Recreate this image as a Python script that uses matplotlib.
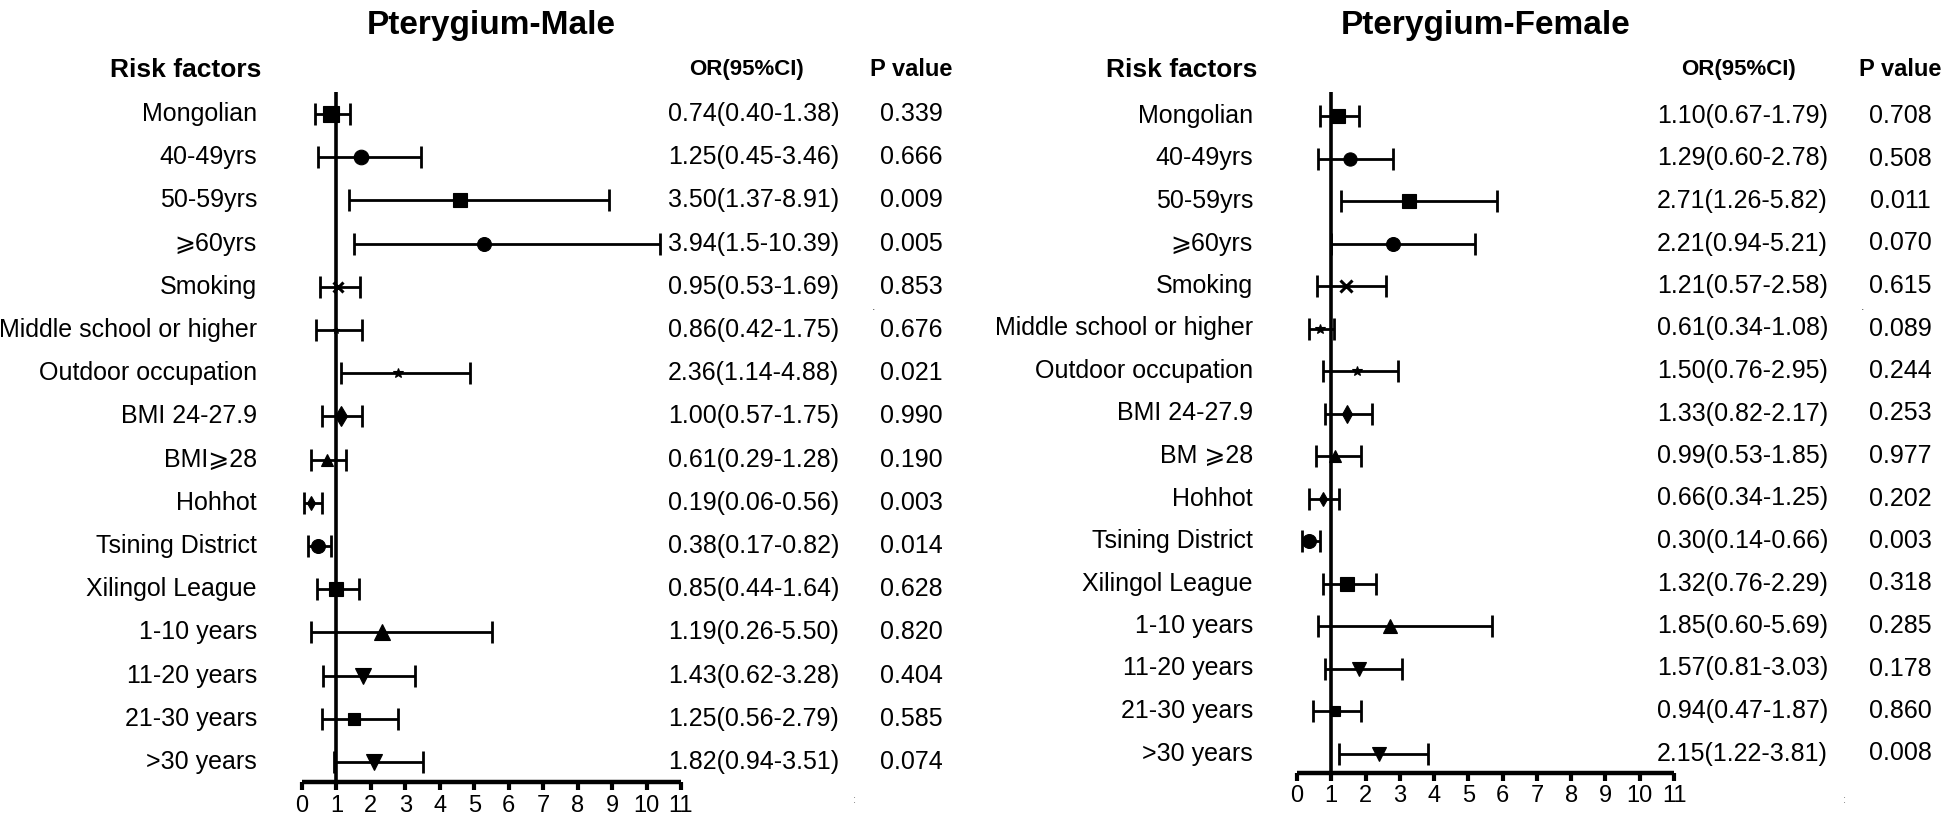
import matplotlib
matplotlib.use('Agg')
import matplotlib.pyplot as plt
from matplotlib import font_manager
from matplotlib.transforms import blended_transform_factory


# Row labels (top to bottom)
male_labels = ['Mongolian', '40-49yrs', '50-59yrs', '⩾60yrs', 'Smoking',
               'Middle school or higher', 'Outdoor occupation', 'BMI 24-27.9',
               'BMI⩾28', 'Hohhot', 'Tsining District', 'Xilingol League',
               '1-10 years', '11-20 years', '21-30 years', '>30 years']
female_labels = ['Mongolian', '40-49yrs', '50-59yrs', '⩾60yrs', 'Smoking',
                 'Middle school or higher', 'Outdoor occupation', 'BMI 24-27.9',
                 'BM ⩾28', 'Hohhot', 'Tsining District', 'Xilingol League',
                 '1-10 years', '11-20 years', '21-30 years', '>30 years']

# Plotted points and whisker ends (as drawn in the figure)
male_pt = [0.83, 1.71, 4.59, 5.28, 1.05, 0.99, 2.79, 1.12, 0.73, 0.27, 0.45, 0.99, 2.32, 1.78, 1.52, 2.08]
male_lo = [0.39, 0.45, 1.36, 1.50, 0.52, 0.42, 1.14, 0.57, 0.27, 0.06, 0.16, 0.44, 0.25, 0.61, 0.57, 0.94]
male_hi = [1.39, 3.46, 8.90, 10.38, 1.69, 1.75, 4.88, 1.74, 1.28, 0.57, 0.83, 1.65, 5.50, 3.29, 2.79, 3.50]

female_pt = [1.20, 1.56, 3.28, 2.80, 1.43, 0.66, 1.74, 1.45, 1.11, 0.76, 0.36, 1.46, 2.72, 1.81, 1.11, 2.39]
female_lo = [0.66, 0.61, 1.27, 0.99, 0.59, 0.34, 0.77, 0.83, 0.55, 0.35, 0.15, 0.77, 0.62, 0.83, 0.47, 1.22]
female_hi = [1.80, 2.79, 5.84, 5.20, 2.59, 1.08, 2.94, 2.18, 1.86, 1.24, 0.68, 2.31, 5.69, 3.05, 1.87, 3.81]

# Text columns
male_or = ['0.74(0.40-1.38)', '1.25(0.45-3.46)', '3.50(1.37-8.91)', '3.94(1.5-10.39)',
           '0.95(0.53-1.69)', '0.86(0.42-1.75)', '2.36(1.14-4.88)', '1.00(0.57-1.75)',
           '0.61(0.29-1.28)', '0.19(0.06-0.56)', '0.38(0.17-0.82)', '0.85(0.44-1.64)',
           '1.19(0.26-5.50)', '1.43(0.62-3.28)', '1.25(0.56-2.79)', '1.82(0.94-3.51)']
male_p = ['0.339', '0.666', '0.009', '0.005', '0.853', '0.676', '0.021', '0.990',
          '0.190', '0.003', '0.014', '0.628', '0.820', '0.404', '0.585', '0.074']
female_or = ['1.10(0.67-1.79)', '1.29(0.60-2.78)', '2.71(1.26-5.82)', '2.21(0.94-5.21)',
             '1.21(0.57-2.58)', '0.61(0.34-1.08)', '1.50(0.76-2.95)', '1.33(0.82-2.17)',
             '0.99(0.53-1.85)', '0.66(0.34-1.25)', '0.30(0.14-0.66)', '1.32(0.76-2.29)',
             '1.85(0.60-5.69)', '1.57(0.81-3.03)', '0.94(0.47-1.87)', '2.15(1.22-3.81)']
female_p = ['0.708', '0.508', '0.011', '0.070', '0.615', '0.089', '0.244', '0.253',
            '0.977', '0.202', '0.003', '0.318', '0.285', '0.178', '0.860', '0.008']

x_ticks = list(range(0, 12))

# Marker styles per row
markers = ['s', 'o', 's', 'o', 'x', '*', '*', 'd', '^', 'd', 'o', 's', '^', 'v', 's', 'v']
male_msize = [11, 10.5, 10.5, 10, 7.5, 5, 7, 10, 9, 7, 10, 10.5, 11, 11, 8.5, 11]
female_msize = [9.5, 9.5, 10, 10, 8, 7, 7, 9, 8, 7, 10, 10, 10.5, 10, 7.5, 10]

W, H = 1946, 815
names = {f.name for f in font_manager.fontManager.ttflist}
NARROW = 'Liberation Sans Narrow' if 'Liberation Sans Narrow' in names else 'Liberation Sans'
plt.rcParams['font.family'] = ['Liberation Sans', 'DejaVu Sans']


def fx(px):
    return px / W


def fy(py):
    return 1 - py / H


# Draw one forest panel; geometry given in figure pixels
def draw_panel(fig, geo, title, labels, pt, lo, hi, or_txt, p_txt, msize):
    x0, x1, row0, row_step, line_top, axis_y = geo['x0'], geo['x1'], geo['row0'], geo['step'], geo['top'], geo['axis']
    ax = fig.add_axes([fx(x0), fy(axis_y), (x1 - x0) / W, (axis_y - line_top) / H])
    ax.set_xlim(0, 11)
    ax.set_ylim((axis_y - row0) / row_step, (line_top - row0) / row_step)
    ax.patch.set_alpha(0)
    for s in ['top', 'right', 'left']:
        ax.spines[s].set_visible(False)
    ax.spines['bottom'].set_linewidth(3.2)
    ax.spines['bottom'].set_capstyle('butt')
    ax.set_yticks([])
    ax.set_xticks(x_ticks)
    ax.set_xticklabels([str(t) for t in x_ticks], fontsize=17, family=NARROW)
    ax.tick_params(axis='x', length=6, width=3, pad=3)
    ax.axvline(1, color='black', lw=2.6, zorder=2)

    rows = list(range(len(labels)))
    xerr = [[p - l for p, l in zip(pt, lo)], [h - p for p, h in zip(pt, hi)]]
    ax.errorbar(pt, rows, xerr=xerr, fmt='none', ecolor='black', elinewidth=2.0,
                capsize=8, capthick=2.0, zorder=3)
    for r in rows:
        mk = markers[r]
        ax.plot(pt[r], r, marker=mk, color='black', markersize=msize[r],
                markeredgewidth=2.2 if mk == 'x' else 0.8, linestyle='none', zorder=4,
                clip_on=False)

    tr = blended_transform_factory(fig.transFigure, ax.transData)
    for r in rows:
        ax.text(fx(geo['lab']), r, labels[r], transform=tr, ha='right', va='center', fontsize=18,
                family=['Liberation Sans', 'DejaVu Sans'])
        ax.text(fx(geo['or']), r, or_txt[r], transform=tr, ha='left', va='center', fontsize=18)
        ax.text(fx(geo['p']), r, p_txt[r], transform=tr, ha='center', va='center', fontsize=18)

    fig.text(fx((x0 + x1) / 2), fy(34), title, ha='center', va='baseline', fontsize=24, fontweight='bold')
    fig.text(fx(geo['lab'] + 4), fy(70), 'Risk factors', ha='right', va='center', fontsize=19, fontweight='bold')
    fig.text(fx(geo['orh']), fy(70), 'OR(95%CI)', ha='center', va='center', fontsize=16, fontweight='bold')
    fig.text(fx(geo['p']), fy(70), 'P value', ha='center', va='center', fontsize=17, fontweight='bold')
    # small stray marks in the source image
    fig.text(fx(geo['p'] - 37), fy(307), '.', ha='center', va='center', fontsize=9, color='#444444')
    fig.text(fx(geo['p'] - 56), fy(800), ':', ha='center', va='center', fontsize=8, color='#777777')
    return ax


fig = plt.figure(figsize=(W / 100, H / 100), dpi=100)

male_geo = dict(x0=302, x1=681, row0=114, step=43.2, top=92, axis=782,
                lab=257, **{'or': 668}, orh=747, p=911)
female_geo = dict(x0=1297, x1=1674, row0=116, step=42.5, top=92, axis=773,
                  lab=1253, **{'or': 1657}, orh=1738, p=1900)

draw_panel(fig, male_geo, 'Pterygium-Male', male_labels, male_pt, male_lo, male_hi,
           male_or, male_p, male_msize)
draw_panel(fig, female_geo, 'Pterygium-Female', female_labels, female_pt, female_lo, female_hi,
           female_or, female_p, female_msize)

fig.savefig('out.png', dpi=100, facecolor='white')
